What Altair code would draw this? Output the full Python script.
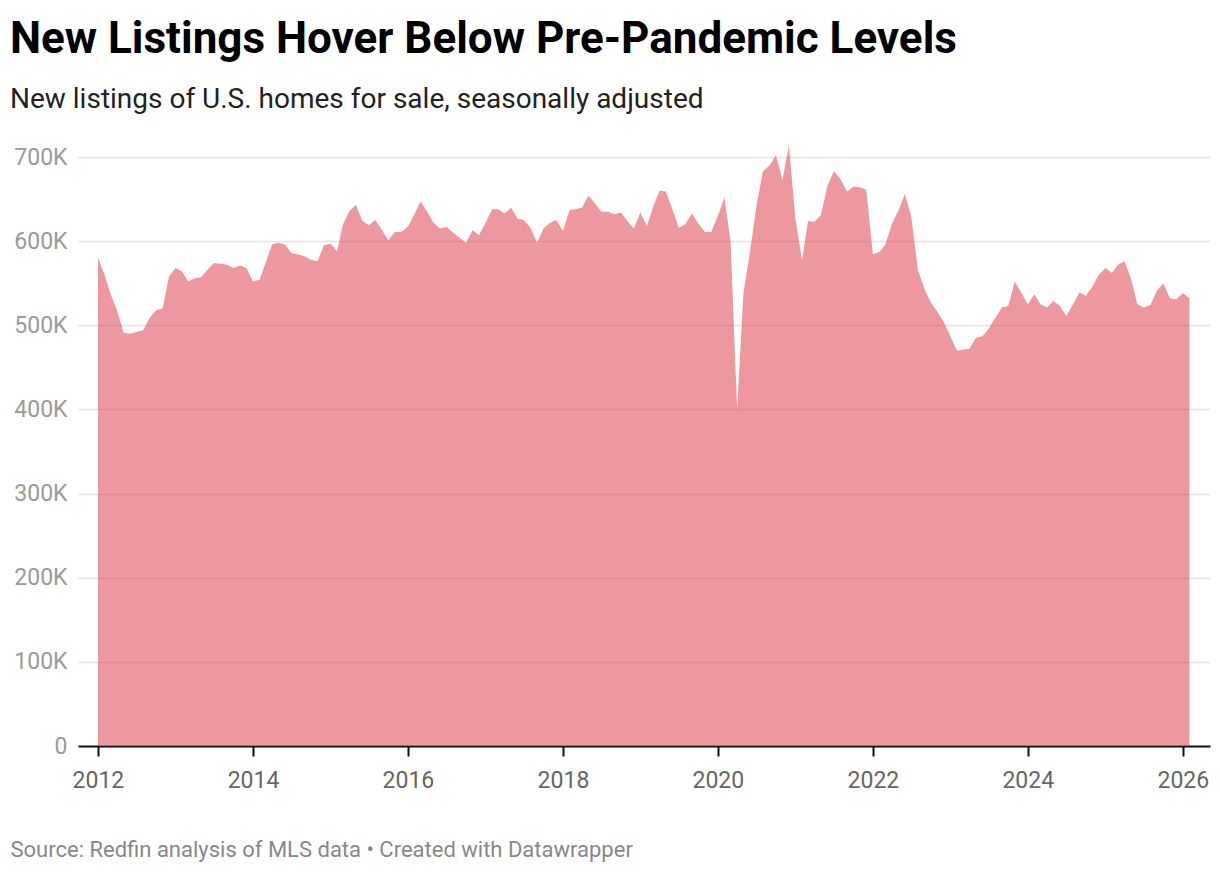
import altair as alt
import pandas as pd

# Monthly new listings (thousands), Jan 2012 - Feb 2026
values_k = [
    580, 560, 537, 517, 491, 490, 492, 494, 509, 518, 520, 558,   # 2012
    568, 564, 552, 556, 557, 566, 574, 573, 572, 568, 571, 568,   # 2013
    552, 554, 574, 596, 598, 596, 586, 584, 582, 578, 576, 595,   # 2014
    597, 588, 620, 636, 643, 624, 619, 625, 613, 601, 611, 611,   # 2015
    617, 632, 647, 635, 622, 615, 617, 610, 604, 598, 613, 607,   # 2016
    622, 638, 638, 633, 640, 627, 625, 616, 598, 615, 622, 625,   # 2017
    612, 637, 638, 640, 654, 645, 635, 635, 632, 634, 624, 615,   # 2018
    634, 618, 640, 660, 659, 638, 616, 620, 633, 621, 611, 611,   # 2019
    630, 652, 600, 400, 539, 588, 642, 683, 690, 702, 673, 714,   # 2020
    626, 577, 624, 623, 631, 666, 683, 674, 659, 665, 664, 661,   # 2021
    584, 587, 596, 621, 636, 656, 629, 566, 543, 527, 516, 504,   # 2022
    487, 470, 471, 472, 485, 487, 496, 509, 521, 523, 552, 539,   # 2023
    525, 537, 525, 521, 529, 523, 511, 525, 539, 535, 546, 560,   # 2024
    568, 562, 572, 576, 556, 525, 521, 524, 541, 550, 532, 531,   # 2025
    538, 532,                                                     # 2026
]
dates = [f"{2012 + i // 12}-{i % 12 + 1:02d}-01" for i in range(len(values_k))]
tick_years = [2012, 2014, 2016, 2018, 2020, 2022, 2024, 2026]
y_ticks = [0, 100000, 200000, 300000, 400000, 500000, 600000, 700000]

title_text = "New Listings Hover Below Pre-Pandemic Levels"
subtitle_text = "New listings of U.S. homes for sale, seasonally adjusted"
source_text = "Source: Redfin analysis of MLS data \u2022 Created with Datawrapper"

df = pd.DataFrame({"date": dates, "listings": [v * 1000 for v in values_k]})

FONT = "Roboto"

chart = (
    alt.Chart(df)
    .mark_area(color="#E1535D", opacity=0.6, interpolate="linear")
    .encode(
        x=alt.X(
            "date:T",
            scale=alt.Scale(
                type="utc",
                domain=[
                    alt.DateTime(year=2011, month=9, date=29, utc=True),
                    alt.DateTime(year=2026, month=5, date=9, utc=True),
                ],
                nice=False,
            ),
            axis=alt.Axis(
                values=[alt.DateTime(year=y, month=1, date=1, utc=True) for y in tick_years],
                labelExpr="utcFormat(datum.value, '%Y')",
                grid=False,
                domain=True,
                domainColor="#111111",
                domainWidth=2,
                ticks=True,
                tickColor="#111111",
                tickWidth=2,
                tickSize=10,
                labelFont=FONT,
                labelFontSize=23,
                labelColor="#666666",
                labelPadding=13,
                title=source_text,
                titleFont=FONT,
                titleFontSize=22,
                titleFontWeight="normal",
                titleColor="#888888",
                titleAnchor="start",
                titleAlign="left",
                titleBaseline="alphabetic",
                titleX=-68,
                titleY=110,
            ),
        ),
        y=alt.Y(
            "listings:Q",
            scale=alt.Scale(domain=[0, 700000], nice=False),
            axis=alt.Axis(
                values=y_ticks,
                labelExpr="datum.value == 0 ? '0' : (datum.value / 1000) + 'K'",
                grid=True,
                gridColor="#e3e3e3",
                gridWidth=1.5,
                domain=False,
                ticks=False,
                labelFont=FONT,
                labelFontSize=23,
                labelColor="#9a9a9a",
                labelPadding=11,
                title=None,
            ),
        ),
    )
    .properties(
        width=1132,
        height=589,
        autosize=alt.AutoSizeParams(type="none"),
        padding={"left": 70, "top": 149, "right": 2, "bottom": 118},
        title=alt.TitleParams(
            text=title_text,
            subtitle=subtitle_text,
            anchor="start",
            frame="group",
            dx=-68,
            offset=31,
            font=FONT,
            fontSize=44,
            fontWeight="bold",
            color="#000000",
            subtitleFont=FONT,
            subtitleFontSize=28,
            subtitleColor="#222222",
            subtitlePadding=24,
        ),
    )
    .configure_view(stroke=None)
)

chart.save("out.html", embed_options={"renderer": "svg", "actions": False})
